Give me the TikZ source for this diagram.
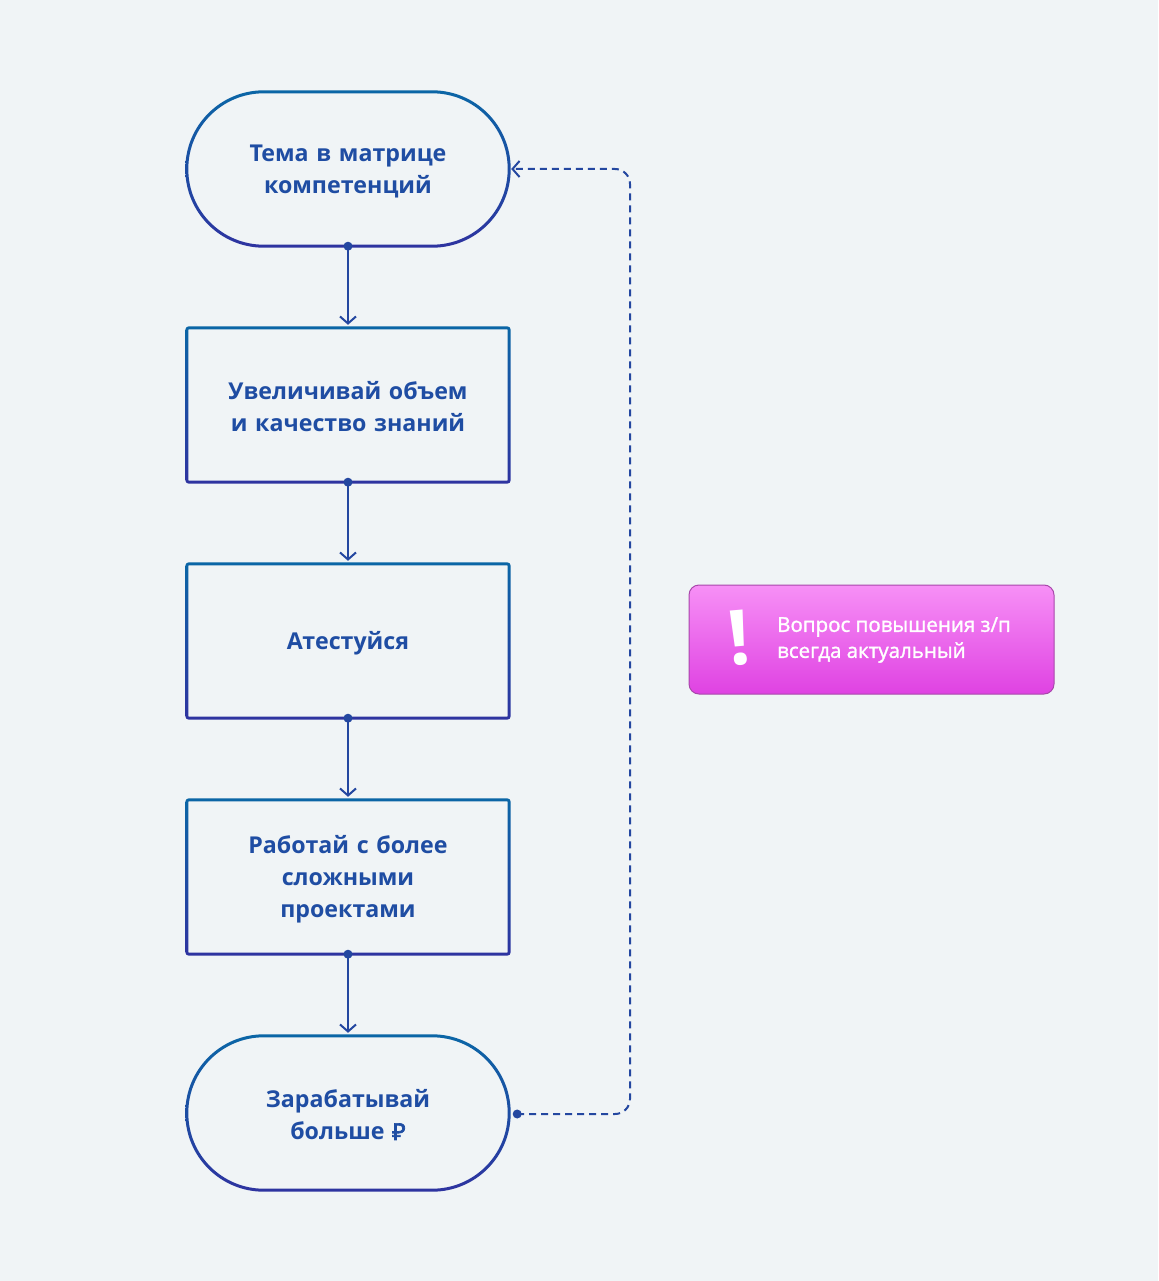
\documentclass[tikz,border=0pt]{standalone}
\usepackage{fontspec}
\setmainfont{Open Sans}
\newfontface\medf{Open Sans}[FakeBold=1.5]
\newfontface\rubf{Noto Sans}[FakeBold=3]
\usetikzlibrary{arrows.meta,calc}
\definecolor{bg}{HTML}{F0F4F6}
\definecolor{bordtop}{HTML}{0B66A6}
\definecolor{bordbot}{HTML}{2E33A0}
\definecolor{txtc}{HTML}{1F4DA3}
\definecolor{conn}{HTML}{2447A0}
\definecolor{pinktop}{HTML}{F790F6}
\definecolor{pinkbot}{HTML}{DF42E2}
\definecolor{pinkbord}{HTML}{A848AA}
\tikzset{
  stepnode/.style={minimum width=322pt, minimum height=154pt, inner sep=0pt},
  steptext/.style={inner sep=0pt, text width=300pt, align=center,
    font=\fontsize{23.2}{32}\selectfont\bfseries, text=txtc},
  flow/.style={conn, line width=2pt, -{Straight Barb[length=7pt,width=16pt]}, shorten >=3pt},
  loopline/.style={conn, line width=2pt, dash pattern=on 7pt off 5pt, rounded corners=15pt,
    -{Straight Barb[length=7pt,width=16pt]}, shorten >=1pt},
  warnbox/.style={minimum width=365pt, minimum height=109pt, rounded corners=10pt,
    top color=pinktop, bottom color=pinkbot, draw=pinkbord, line width=1pt},
  warntext/.style={text=white, align=left, inner sep=0pt, font=\fontsize{20.5}{26}\selectfont\medf},
}
\begin{document}
\begin{tikzpicture}[x=1pt,y=-1pt]
\useasboundingbox[fill=bg] (0,0) rectangle (1158,1281);
\node[stepnode] (n1) at (348,169) {};
\node[stepnode] (n2) at (348,405) {};
\node[stepnode] (n3) at (348,641) {};
\node[stepnode] (n4) at (348,877) {};
\node[stepnode] (n5) at (348,1113) {};
\node[steptext] (t1) at ($(n1)+(0,2)$) {Тема в матрице\\компетенций};
\node[steptext] (t2) at ($(n2)+(0,2)$) {Увеличивай объем\\и качество знаний};
\node[steptext] (t3) at ($(n3)+(0,2)$) {Атестуйся};
\node[steptext] (t4) at ($(n4)+(0,2)$) {Работай с более\\сложными\\проектами};
\node[steptext] (t5) at ($(n5)+(0,2)$) {Зарабатывай\\больше {\rubf ₽}};
\foreach \n/\r in {n1/77,n2/2,n3/2,n4/2,n5/77}{
  \shade[top color=bordtop, bottom color=bordbot, even odd rule]
    [rounded corners=\r+1.5] ($(\n.north west)+(-1.5,-1.5)$) rectangle ($(\n.south east)+(1.5,1.5)$)
    [rounded corners=\r-1.5] ($(\n.north west)+(1.5,1.5)$) rectangle ($(\n.south east)+(-1.5,-1.5)$);
}
\foreach \a/\b in {n1/n2,n2/n3,n3/n4,n4/n5}{
  \draw[flow] (\a.south) -- (\b.north);
  \fill[conn] (\a.south) circle (4.5);
}
\coordinate (s) at ($(n5.east)+(8,1)$);
\coordinate (rx) at (630,1114);
\draw[loopline] (s) -- (rx) -- (rx |- n1.east) -- ($(n1.east)+(1,0)$);
\fill[conn] (s) circle (4.5);
\node[warnbox] (warn) at (871.5,639.5) {};
\node[warntext, anchor=west] (wtxt) at (777,640) {Вопрос повышения з/п\\всегда актуальный};
\node[text=white, inner sep=0pt, rotate=5, font=\fontsize{76}{76}\selectfont\bfseries] (excl) at (739,638) {!};
\end{tikzpicture}
\end{document}
